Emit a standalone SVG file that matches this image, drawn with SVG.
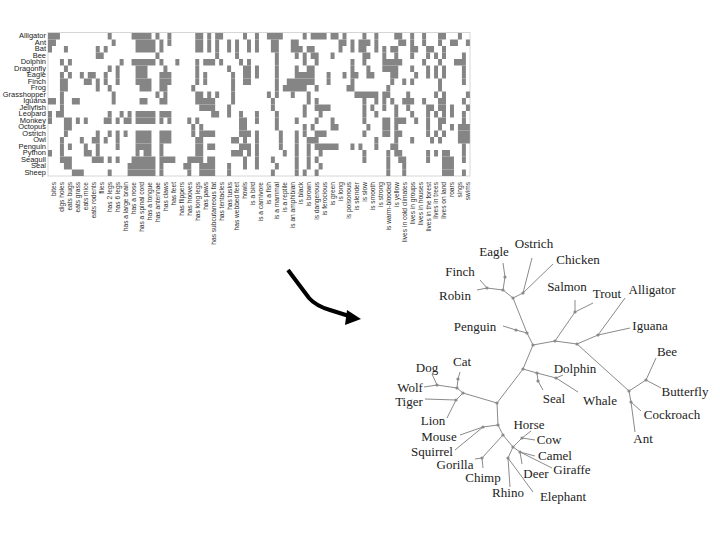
<svg xmlns="http://www.w3.org/2000/svg" width="720" height="540" viewBox="0 0 720 540">
<style>
.rl{font-family:"Liberation Sans",Arial,sans-serif;font-size:6.5px;fill:#222;text-anchor:end}
.cl{font-family:"Liberation Sans",Arial,sans-serif;font-size:6.6px;fill:#333;text-anchor:end}
.tl{font-family:"Liberation Serif","Times New Roman",serif;font-size:13px;fill:#222;text-anchor:middle}
.edge{fill:none;stroke:#8a8a8a;stroke-width:1}
.dot{fill:#8a8a8a}
</style>
<rect width="720" height="540" fill="#fff"/>
<g id="matrix">
<rect x="48" y="32.5" width="422" height="143.5" fill="none" stroke="#d6d6d6" stroke-width="1"/>
<g transform="translate(48,33) scale(3.98,6.5)" fill="none" stroke="#858585" stroke-width="1">
<path d="M0 .5h3M15 .5h1M21 .5h5M27 .5h1M30 .5h1M37 .5h2M40 .5h1M42 .5h2M49 .5h1M52 .5h1M55 .5h4M64 .5h1M66 .5h4M71 .5h2M74 .5h1M79 .5h1M82 .5h1M87 .5h2M91 .5h1M94 .5h1M98 .5h2M103 .5h1"/>
<path d="M0 1.5h2M16 1.5h1M22 1.5h5M28 1.5h1M30 1.5h1M37 1.5h2M40 1.5h1M42 1.5h1M45 1.5h1M47 1.5h1M50 1.5h1M52 1.5h1M56 1.5h2M61 1.5h2M73 1.5h2M76 1.5h1M78 1.5h3M82 1.5h1M88 1.5h2M91 1.5h1M94 1.5h1M98 1.5h1M101 1.5h2M105 1.5h1"/>
<path d="M0 2.5h1M4 2.5h1M12 2.5h1M14 2.5h1M22 2.5h5M28 2.5h1M37 2.5h2M40 2.5h1M42 2.5h1M45 2.5h1M47 2.5h1M50 2.5h1M52 2.5h1M56 2.5h2M61 2.5h3M65 2.5h2M73 2.5h1M76 2.5h1M78 2.5h2M82 2.5h1M84 2.5h1M86 2.5h2M91 2.5h2M95 2.5h2M99 2.5h1"/>
<path d="M12 3.5h2M27 3.5h1M42 3.5h1M47 3.5h1M57 3.5h1M62 3.5h1M64 3.5h1M66 3.5h2M71 3.5h1M79 3.5h2M84 3.5h1M87 3.5h1M91 3.5h1M95 3.5h1M97 3.5h1M99 3.5h1M104 3.5h1"/>
<path d="M3 4.5h1M5 4.5h1M18 4.5h1M21 4.5h6M28 4.5h1M32 4.5h1M37 4.5h1M39 4.5h3M43 4.5h1M48 4.5h1M50 4.5h1M57 4.5h1M64 4.5h1M67 4.5h1M76 4.5h1M79 4.5h1M84 4.5h5M94 4.5h1M98 4.5h1M102 4.5h3"/>
<path d="M4 5.5h1M15 5.5h1M17 5.5h1M22 5.5h3M29 5.5h1M37 5.5h1M45 5.5h1M49 5.5h2M52 5.5h1M57 5.5h1M62 5.5h1M65 5.5h2M76 5.5h1M80 5.5h1M84 5.5h4M91 5.5h1M95 5.5h1M97 5.5h1M99 5.5h1M104 5.5h1"/>
<path d="M3 6.5h1M5 6.5h1M8 6.5h1M10 6.5h2M14 6.5h1M17 6.5h1M22 6.5h3M28 6.5h3M37 6.5h1M39 6.5h1M46 6.5h1M49 6.5h2M52 6.5h1M57 6.5h1M62 6.5h5M70 6.5h1M74 6.5h1M76 6.5h2M80 6.5h2M86 6.5h2M92 6.5h1M95 6.5h1M97 6.5h1M99 6.5h1M104 6.5h1"/>
<path d="M3 7.5h2M9 7.5h2M12 7.5h1M14 7.5h1M17 7.5h1M22 7.5h4M28 7.5h3M37 7.5h1M39 7.5h1M46 7.5h1M49 7.5h2M57 7.5h1M60 7.5h7M70 7.5h1M76 7.5h1M86 7.5h1M89 7.5h1M91 7.5h1M98 7.5h1M104 7.5h1"/>
<path d="M3 8.5h2M12 8.5h1M15 8.5h1M23 8.5h3M28 8.5h2M36 8.5h1M46 8.5h1M57 8.5h1M59 8.5h6M67 8.5h1M75 8.5h2M85 8.5h1M98 8.5h1"/>
<path d="M3 9.5h1M16 9.5h1M27 9.5h1M29 9.5h1M37 9.5h2M40 9.5h1M42 9.5h1M46 9.5h1M55 9.5h1M57 9.5h1M61 9.5h1M65 9.5h1M77 9.5h6M84 9.5h2M90 9.5h1M97 9.5h1M99 9.5h1M105 9.5h1"/>
<path d="M0 10.5h2M3 10.5h1M6 10.5h2M16 10.5h1M23 10.5h2M28 10.5h2M37 10.5h5M46 10.5h1M56 10.5h1M65 10.5h1M67 10.5h1M79 10.5h1M82 10.5h1M84 10.5h1M86 10.5h1M89 10.5h3M94 10.5h1M98 10.5h2M104 10.5h1"/>
<path d="M3 11.5h1M38 11.5h4M45 11.5h1M56 11.5h1M64 11.5h1M67 11.5h4M79 11.5h1M81 11.5h1M84 11.5h1M87 11.5h1M90 11.5h1M95 11.5h2M98 11.5h2M101 11.5h1M105 11.5h1"/>
<path d="M0 12.5h1M2 12.5h2M15 12.5h1M18 12.5h1M20 12.5h1M22 12.5h5M28 12.5h3M41 12.5h2M45 12.5h1M48 12.5h1M52 12.5h1M57 12.5h1M64 12.5h1M68 12.5h1M79 12.5h1M82 12.5h1M87 12.5h1M91 12.5h1M95 12.5h1M97 12.5h1M99 12.5h1M101 12.5h1M104 12.5h1"/>
<path d="M0 13.5h1M4 13.5h2M7 13.5h1M9 13.5h1M14 13.5h2M17 13.5h1M19 13.5h2M22 13.5h5M28 13.5h1M30 13.5h1M35 13.5h1M37 13.5h1M48 13.5h2M52 13.5h1M57 13.5h1M62 13.5h1M67 13.5h1M71 13.5h1M79 13.5h1M84 13.5h2M87 13.5h3M92 13.5h1M95 13.5h1M98 13.5h2M104 13.5h1"/>
<path d="M4 14.5h2M36 14.5h1M38 14.5h1M48 14.5h2M57 14.5h1M64 14.5h1M66 14.5h1M71 14.5h2M80 14.5h1M84 14.5h2M87 14.5h1M95 14.5h1M98 14.5h1M101 14.5h1M103 14.5h3"/>
<path d="M4 15.5h1M12 15.5h1M15 15.5h1M17 15.5h1M19 15.5h1M22 15.5h4M28 15.5h3M36 15.5h1M38 15.5h4M48 15.5h3M52 15.5h1M58 15.5h1M62 15.5h1M64 15.5h1M67 15.5h3M79 15.5h1M84 15.5h2M87 15.5h2M95 15.5h1M97 15.5h1M99 15.5h1M103 15.5h3"/>
<path d="M3 16.5h1M8 16.5h1M11 16.5h2M14 16.5h1M17 16.5h1M22 16.5h4M28 16.5h3M37 16.5h2M46 16.5h2M49 16.5h1M52 16.5h1M58 16.5h1M62 16.5h1M65 16.5h3M82 16.5h1M87 16.5h1M91 16.5h1M96 16.5h1M98 16.5h1M103 16.5h3"/>
<path d="M3 17.5h1M5 17.5h1M9 17.5h1M12 17.5h1M17 17.5h1M22 17.5h4M28 17.5h1M37 17.5h2M40 17.5h2M48 17.5h3M52 17.5h1M58 17.5h1M62 17.5h1M65 17.5h1M67 17.5h6M76 17.5h1M78 17.5h1M82 17.5h1M86 17.5h2M104 17.5h1"/>
<path d="M0 18.5h1M3 18.5h1M9 18.5h2M12 18.5h1M22 18.5h1M24 18.5h2M28 18.5h1M37 18.5h2M46 18.5h3M50 18.5h1M52 18.5h1M59 18.5h1M62 18.5h1M65 18.5h1M68 18.5h1M79 18.5h1M85 18.5h1M87 18.5h2M95 18.5h1M97 18.5h1M99 18.5h2M104 18.5h1"/>
<path d="M3 19.5h3M11 19.5h3M15 19.5h1M17 19.5h1M21 19.5h6M28 19.5h4M35 19.5h4M40 19.5h2M49 19.5h1M52 19.5h1M56 19.5h1M62 19.5h1M65 19.5h1M67 19.5h1M79 19.5h1M85 19.5h1M88 19.5h2M95 19.5h1M99 19.5h3M104 19.5h1"/>
<path d="M4 20.5h2M20 20.5h7M28 20.5h1M34 20.5h2M38 20.5h4M45 20.5h1M49 20.5h1M52 20.5h1M57 20.5h1M62 20.5h1M65 20.5h1M68 20.5h1M85 20.5h1M89 20.5h1M99 20.5h3"/>
<path d="M6 21.5h3M15 21.5h1M20 21.5h7M28 21.5h1M35 21.5h1M38 21.5h4M45 21.5h1M56 21.5h1M62 21.5h1M64 21.5h1M67 21.5h1M85 21.5h1M89 21.5h1M99 21.5h3M104 21.5h1"/>
</g>
</g>
<g id="row-labels" transform="translate(46,0) scale(1.15,1)">
<text class="rl" x="0" y="38.4">Alligator</text>
<text class="rl" x="0" y="44.9">Ant</text>
<text class="rl" x="0" y="51.4">Bat</text>
<text class="rl" x="0" y="57.9">Bee</text>
<text class="rl" x="0" y="64.4">Dolphin</text>
<text class="rl" x="0" y="70.9">Dragonfly</text>
<text class="rl" x="0" y="77.4">Eagle</text>
<text class="rl" x="0" y="83.9">Finch</text>
<text class="rl" x="0" y="90.4">Frog</text>
<text class="rl" x="0" y="96.9">Grasshopper</text>
<text class="rl" x="0" y="103.4">Iguana</text>
<text class="rl" x="0" y="109.9">Jellyfish</text>
<text class="rl" x="0" y="116.4">Leopard</text>
<text class="rl" x="0" y="122.9">Monkey</text>
<text class="rl" x="0" y="129.4">Octopus</text>
<text class="rl" x="0" y="135.9">Ostrich</text>
<text class="rl" x="0" y="142.4">Owl</text>
<text class="rl" x="0" y="148.9">Penguin</text>
<text class="rl" x="0" y="155.4">Python</text>
<text class="rl" x="0" y="161.9">Seagull</text>
<text class="rl" x="0" y="168.4">Seal</text>
<text class="rl" x="0" y="174.9">Sheep</text>
</g>
<g id="column-labels">
<text class="cl" transform="translate(56.4,182) rotate(-90)">bites</text>
<text class="cl" transform="translate(64.3,182) rotate(-90)">digs holes</text>
<text class="cl" transform="translate(72.3,182) rotate(-90)">eats bugs</text>
<text class="cl" transform="translate(80.2,182) rotate(-90)">eats grass</text>
<text class="cl" transform="translate(88.2,182) rotate(-90)">eats mice</text>
<text class="cl" transform="translate(96.2,182) rotate(-90)">eats rodents</text>
<text class="cl" transform="translate(104.1,182) rotate(-90)">flies</text>
<text class="cl" transform="translate(112.1,182) rotate(-90)">has 2 legs</text>
<text class="cl" transform="translate(120.0,182) rotate(-90)">has 6 legs</text>
<text class="cl" transform="translate(128.0,182) rotate(-90)">has a large brain</text>
<text class="cl" transform="translate(136.0,182) rotate(-90)">has a nose</text>
<text class="cl" transform="translate(143.9,182) rotate(-90)">has a spinal cord</text>
<text class="cl" transform="translate(151.9,182) rotate(-90)">has a tongue</text>
<text class="cl" transform="translate(159.8,182) rotate(-90)">has antennae</text>
<text class="cl" transform="translate(167.8,182) rotate(-90)">has claws</text>
<text class="cl" transform="translate(175.8,182) rotate(-90)">has feet</text>
<text class="cl" transform="translate(183.7,182) rotate(-90)">has flippers</text>
<text class="cl" transform="translate(191.7,182) rotate(-90)">has hooves</text>
<text class="cl" transform="translate(199.6,182) rotate(-90)">has long legs</text>
<text class="cl" transform="translate(207.6,182) rotate(-90)">has paws</text>
<text class="cl" transform="translate(215.6,182) rotate(-90)">has subcutaneous fat</text>
<text class="cl" transform="translate(223.5,182) rotate(-90)">has tentacles</text>
<text class="cl" transform="translate(231.5,182) rotate(-90)">has tusks</text>
<text class="cl" transform="translate(239.4,182) rotate(-90)">has webbed feet</text>
<text class="cl" transform="translate(247.4,182) rotate(-90)">howls</text>
<text class="cl" transform="translate(255.4,182) rotate(-90)">is a bird</text>
<text class="cl" transform="translate(263.3,182) rotate(-90)">is a carnivore</text>
<text class="cl" transform="translate(271.3,182) rotate(-90)">is a fish</text>
<text class="cl" transform="translate(279.2,182) rotate(-90)">is a mammal</text>
<text class="cl" transform="translate(287.2,182) rotate(-90)">is a reptile</text>
<text class="cl" transform="translate(295.2,182) rotate(-90)">is an amphibian</text>
<text class="cl" transform="translate(303.1,182) rotate(-90)">is black</text>
<text class="cl" transform="translate(311.1,182) rotate(-90)">is brown</text>
<text class="cl" transform="translate(319.0,182) rotate(-90)">is dangerous</text>
<text class="cl" transform="translate(327.0,182) rotate(-90)">is ferocious</text>
<text class="cl" transform="translate(335.0,182) rotate(-90)">is green</text>
<text class="cl" transform="translate(342.9,182) rotate(-90)">is long</text>
<text class="cl" transform="translate(350.9,182) rotate(-90)">is poisonous</text>
<text class="cl" transform="translate(358.8,182) rotate(-90)">is slender</text>
<text class="cl" transform="translate(366.8,182) rotate(-90)">is slow</text>
<text class="cl" transform="translate(374.8,182) rotate(-90)">is smooth</text>
<text class="cl" transform="translate(382.7,182) rotate(-90)">is strong</text>
<text class="cl" transform="translate(390.7,182) rotate(-90)">is warm-blooded</text>
<text class="cl" transform="translate(398.6,182) rotate(-90)">is yellow</text>
<text class="cl" transform="translate(406.6,182) rotate(-90)">lives in cold climates</text>
<text class="cl" transform="translate(414.6,182) rotate(-90)">lives in groups</text>
<text class="cl" transform="translate(422.5,182) rotate(-90)">lives in houses</text>
<text class="cl" transform="translate(430.5,182) rotate(-90)">lives in the forest</text>
<text class="cl" transform="translate(438.4,182) rotate(-90)">lives in trees</text>
<text class="cl" transform="translate(446.4,182) rotate(-90)">lives on land</text>
<text class="cl" transform="translate(454.4,182) rotate(-90)">roars</text>
<text class="cl" transform="translate(462.3,182) rotate(-90)">sings</text>
<text class="cl" transform="translate(470.3,182) rotate(-90)">swims</text>
</g>
<g id="arrow">
<path d="M288,270 L309,298 Q316,306 330,310 L349,316" fill="none" stroke="#000" stroke-width="4" stroke-linejoin="round"/>
<polygon points="361,319 347,310 345,325" fill="#000"/>
</g>
<g id="connectors">
<path class="edge" d="M533,345 L527,333 L513,298 M527,333 L516,330 L503,326 M513,298 L523,293 L532,258 M523,293 L553,264 M513,298 L503,290 L505,277 L503,263 M503,290 L487,288 L480,280 M487,288 L477,290"/>
<path class="edge" d="M533,345 L555,341 L575,312 L575,300 M575,312 L593,303 M555,341 L577,344 L598,335 L625,298 M598,335 L630,328 M577,344 L629,391 L646,380 L656,358 M646,380 L661,388 M629,391 L631,402 L641,411 M631,402 L635,432"/>
<path class="edge" d="M533,345 L523,369 L537,373 L556,378 L578,392 M556,378 L563,375 M537,373 L538,381 L543,390"/>
<path class="edge" d="M523,369 L497,403 L463,393 L457,388 L458,379 L460,372 M457,388 L437,385 L432,374 M437,385 L424,387 M463,393 L456,400 L425,399 M456,400 L447,418"/>
<path class="edge" d="M497,403 L498,425 L483,427 L460,435 M483,427 L455,450 M498,425 L503,435 L482,458 L475,459 M482,458 L483,468 M503,435 L513,447 L522,438 L531,431 M522,438 L535,440 M513,447 L520,452 L535,456 M520,452 L552,468 M520,452 L522,464 M513,447 L508,458 L510,487 M508,458 L533,492"/>
<g class="dot">
<circle cx="533" cy="345" r="1.6"/><circle cx="527" cy="333" r="1.6"/><circle cx="516" cy="330" r="1.6"/><circle cx="513" cy="298" r="1.6"/><circle cx="523" cy="293" r="1.6"/><circle cx="503" cy="290" r="1.6"/><circle cx="505" cy="277" r="1.6"/><circle cx="487" cy="288" r="1.6"/>
<circle cx="555" cy="341" r="1.6"/><circle cx="575" cy="312" r="1.6"/><circle cx="577" cy="344" r="1.6"/><circle cx="598" cy="335" r="1.6"/><circle cx="629" cy="391" r="1.6"/><circle cx="646" cy="380" r="1.6"/><circle cx="631" cy="402" r="1.6"/>
<circle cx="523" cy="369" r="1.6"/><circle cx="537" cy="373" r="1.6"/><circle cx="556" cy="378" r="1.6"/><circle cx="538" cy="381" r="1.6"/>
<circle cx="497" cy="403" r="1.6"/><circle cx="463" cy="393" r="1.6"/><circle cx="457" cy="388" r="1.6"/><circle cx="458" cy="379" r="1.6"/><circle cx="437" cy="385" r="1.6"/><circle cx="456" cy="400" r="1.6"/>
<circle cx="498" cy="425" r="1.6"/><circle cx="483" cy="427" r="1.6"/><circle cx="503" cy="435" r="1.6"/><circle cx="482" cy="458" r="1.6"/><circle cx="513" cy="447" r="1.6"/><circle cx="522" cy="438" r="1.6"/><circle cx="520" cy="452" r="1.6"/><circle cx="508" cy="458" r="1.6"/>
</g>
</g>
<g id="n-eagle"><text class="tl" x="494" y="256">Eagle</text></g>
<g id="n-ostrich"><text class="tl" x="534" y="248">Ostrich</text></g>
<g id="n-chicken"><text class="tl" x="578" y="264">Chicken</text></g>
<g id="n-finch"><text class="tl" x="460" y="276">Finch</text></g>
<g id="n-robin"><text class="tl" x="455" y="300">Robin</text></g>
<g id="n-salmon"><text class="tl" x="567" y="291">Salmon</text></g>
<g id="n-trout"><text class="tl" x="607" y="298">Trout</text></g>
<g id="n-alligator"><text class="tl" x="652" y="294">Alligator</text></g>
<g id="n-penguin"><text class="tl" x="475" y="331">Penguin</text></g>
<g id="n-iguana"><text class="tl" x="650" y="330">Iguana</text></g>
<g id="n-bee"><text class="tl" x="667" y="356">Bee</text></g>
<g id="n-butterfly"><text class="tl" x="685" y="396">Butterfly</text></g>
<g id="n-cockroach"><text class="tl" x="672" y="419">Cockroach</text></g>
<g id="n-ant"><text class="tl" x="643" y="443">Ant</text></g>
<g id="n-dolphin"><text class="tl" x="575" y="373">Dolphin</text></g>
<g id="n-seal"><text class="tl" x="554" y="403">Seal</text></g>
<g id="n-whale"><text class="tl" x="600" y="405">Whale</text></g>
<g id="n-cat"><text class="tl" x="462" y="366">Cat</text></g>
<g id="n-dog"><text class="tl" x="427" y="372">Dog</text></g>
<g id="n-wolf"><text class="tl" x="410" y="392">Wolf</text></g>
<g id="n-tiger"><text class="tl" x="409" y="406">Tiger</text></g>
<g id="n-lion"><text class="tl" x="433" y="425">Lion</text></g>
<g id="n-mouse"><text class="tl" x="439" y="441">Mouse</text></g>
<g id="n-squirrel"><text class="tl" x="432" y="456">Squirrel</text></g>
<g id="n-gorilla"><text class="tl" x="455" y="469">Gorilla</text></g>
<g id="n-chimp"><text class="tl" x="483" y="482">Chimp</text></g>
<g id="n-rhino"><text class="tl" x="508" y="497">Rhino</text></g>
<g id="n-horse"><text class="tl" x="529" y="429">Horse</text></g>
<g id="n-cow"><text class="tl" x="549" y="444">Cow</text></g>
<g id="n-camel"><text class="tl" x="555" y="460">Camel</text></g>
<g id="n-giraffe"><text class="tl" x="572" y="474">Giraffe</text></g>
<g id="n-deer"><text class="tl" x="536" y="478">Deer</text></g>
<g id="n-elephant"><text class="tl" x="563" y="501">Elephant</text></g>
</svg>
